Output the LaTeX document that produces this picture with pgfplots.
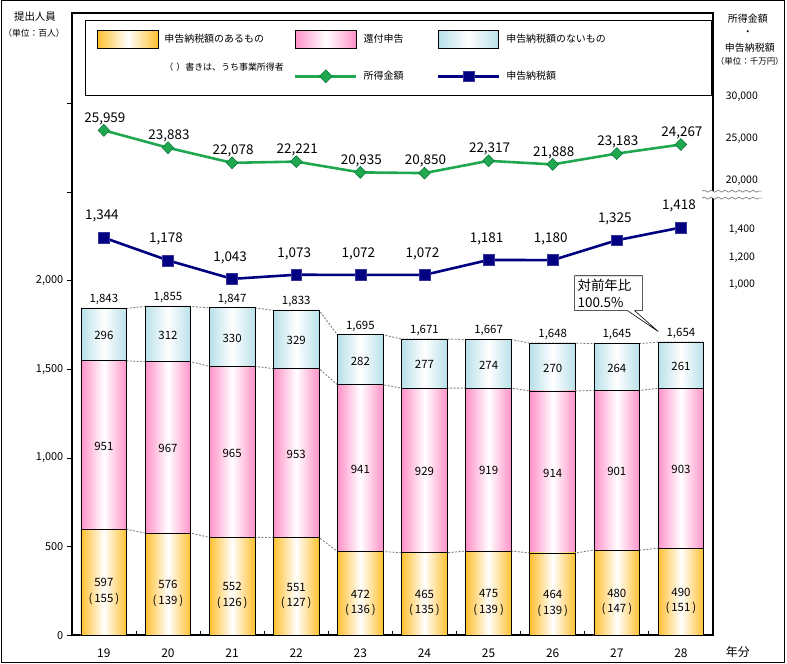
\documentclass[border=0pt]{standalone}
\usepackage{pgfplots}
\pgfplotsset{compat=1.18}
\usepackage{pgfplotstable}
\usepackage{fontspec}
\setmainfont{Noto Sans CJK JP}
\usetikzlibrary{shapes.callouts,decorations.pathmorphing}
\definecolor{oC}{RGB}{255,192,48}
\definecolor{pC}{RGB}{255,145,200}
\definecolor{cC}{RGB}{184,224,234}
\definecolor{gC}{RGB}{32,168,80}
\definecolor{gD}{RGB}{0,110,50}
\definecolor{nC}{RGB}{0,0,128}

\pgfplotstableread{
x o p c b tot
0 597 951 296 155 1,843
1 576 967 312 139 1,855
2 552 965 330 126 1,847
3 551 953 329 127 1,833
4 472 941 282 136 1,695
5 465 929 277 135 1,671
6 475 919 274 139 1,667
7 464 914 270 139 1,648
8 480 901 264 147 1,645
9 490 903 261 151 1,654
}\bars

\pgfplotstableread{
xe o p c
-0.357 597 951 296
0.357 597 951 296
0.643 576 967 312
1.357 576 967 312
1.643 552 965 330
2.357 552 965 330
2.643 551 953 329
3.357 551 953 329
3.643 472 941 282
4.357 472 941 282
4.643 465 929 277
5.357 465 929 277
5.643 475 919 274
6.357 475 919 274
6.643 464 914 270
7.357 464 914 270
7.643 480 901 264
8.357 480 901 264
8.643 490 903 261
9.357 490 903 261
}\edges

\pgfplotstableread{
x g gl n nl
0 25959 25,959 1344 1,344
1 23883 23,883 1178 1,178
2 22078 22,078 1043 1,043
3 22221 22,221 1073 1,073
4 20935 20,935 1072 1,072
5 20850 20,850 1072 1,072
6 22317 22,317 1181 1,181
7 21888 21,888 1180 1,180
8 23183 23,183 1325 1,325
9 24267 24,267 1418 1,418
}\lines

\pgfplotsset{
  base/.style={at={(71bp,28bp)}, anchor=south west, width=644bp, height=625bp,
    scale only axis, xmin=-0.5, xmax=9.5, clip=false},
  lab/.style={draw=none, forget plot, nodes near coords, point meta=explicit symbolic,
    every node near coord/.append style={text=black, inner sep=1bp, font=\fontsize{11.5bp}{13bp}\selectfont}},
  dl/.style={gray, line width=0.9bp, dash pattern=on 2bp off 1.5bp},
  bar/.style={draw=black, line width=0.8bp, left color=#1, right color=#1, middle color=white},
  oswatch/.style={legend image code/.code={\draw[draw=black, line width=0.6bp, left color=oC, right color=oC, middle color=white] (0bp,-9bp) rectangle (61bp,9bp);}},
  pswatch/.style={legend image code/.code={\draw[draw=black, line width=0.6bp, left color=pC, right color=pC, middle color=white] (0bp,-9bp) rectangle (61bp,9bp);}},
  cswatch/.style={legend image code/.code={\draw[draw=black, line width=0.6bp, left color=cC, right color=cC, middle color=white] (0bp,-9bp) rectangle (61bp,9bp);}},
  eswatch/.style={legend image code/.code={\path[draw=none, fill=none] (0bp,-9bp) rectangle (61bp,9bp);}},
  gleg/.style={legend image code/.code={\path[draw=none, fill=none] (0bp,-9bp) rectangle (61bp,9bp);
     \draw[gC, line width=3.2bp] (0bp,0bp) -- (61bp,0bp);
     \draw[gC, line width=0.5bp, mark=diamond*, mark size=6.5bp, mark options={fill=gC, draw=gD, line width=0.5bp, xscale=1.3}] plot coordinates {(30.5bp,0bp)};}},
  nleg/.style={legend image code/.code={\path[draw=none, fill=none] (0bp,-9bp) rectangle (61bp,9bp);
     \draw[nC, line width=3.2bp] (0bp,0bp) -- (61bp,0bp);
     \draw[nC, line width=0.5bp, mark=square*, mark size=5.5bp, mark options={fill=nC, draw=nC!80!white, line width=0.5bp}] plot coordinates {(30.5bp,0bp)};}},
}

\begin{document}
\fontsize{10bp}{12bp}\selectfont
\begin{tikzpicture}[font=\fontsize{10bp}{12bp}\selectfont]
\draw[line width=0.8bp] (0.4bp,0.4bp) rectangle (786.6bp,665.6bp);

% dashed series lines between bars
\begin{axis}[base, hide axis, ymin=0, ymax=3511, stack plots=y]
\addplot[dl] table[x=xe,y=o]{\edges};
\addplot[dl] table[x=xe,y=p]{\edges};
\addplot[dl] table[x=xe,y=c]{\edges};
\end{axis}

% bars (each bar its own plot so that its shading is its own)
\begin{axis}[base, ybar, bar width=46bp, bar shift=0pt, ymin=0, ymax=3511,
  axis line style={line width=2.5bp},
  /pgf/number format/assume math mode=true,
  tick align=outside, major tick length=5bp, tick pos=left,
  every tick/.style={black, line width=0.8bp},
  ytick={0,500,1000,1500,2000,2500,3000},
  yticklabels={0,500,{1,000},{1,500},{2,000},{},{}},
  yticklabel style={font=\fontsize{11bp}{12bp}\selectfont},
  xtick={0,...,9}, xticklabels={19,20,21,22,23,24,25,26,27,28},
  xticklabel style={font=\fontsize{12bp}{13bp}\selectfont, yshift=-5bp},
  xtick style={draw=none},
  extra x ticks={0.5,1.5,...,8.5}, extra x tick labels={},
  extra x tick style={tick align=inside, major tick length=4bp, xtick style={draw=black}},
]
\pgfplotsinvokeforeach{0,...,9}{
\addplot[bar=cC, restrict x to domain=#1:#1] table[x=x, y expr=\thisrow{o}+\thisrow{p}+\thisrow{c}]{\bars};
\addplot[bar=pC, restrict x to domain=#1:#1] table[x=x, y expr=\thisrow{o}+\thisrow{p}]{\bars};
\addplot[bar=oC, restrict x to domain=#1:#1] table[x=x, y=o]{\bars};
}
\end{axis}

% income line (right upper scale)
\begin{axis}[base, ymin=-34405, ymax=40000, axis x line=none, axis y line*=right,
  y axis line style={draw=none}, ytick style={draw=none}, major tick length=0pt,
  scaled y ticks=false,
  /pgf/number format/assume math mode=true,
  ytick={20000,25000,30000}, yticklabels={{20,000},{25,000},{30,000}},
  yticklabel style={anchor=center, xshift=29bp, font=\fontsize{10.5bp}{12bp}\selectfont}]
\addplot[gC, line width=2.6bp, mark=diamond*, mark size=6bp,
  mark options={fill=gC, draw=gD, line width=0.5bp, xscale=1.3},
  nodes near coords, point meta=explicit symbolic,
  every node near coord/.append style={text=black, inner sep=1bp, yshift=4.4bp, xshift=1bp,
    font=\fontsize{13.5bp}{15bp}\selectfont}]
  table[x=x,y=g,meta=gl]{\lines};
\end{axis}

% tax line (right lower scale)
\begin{axis}[base, ymin=-1560, ymax=2985.5, axis x line=none, axis y line*=right,
  y axis line style={draw=none}, ytick style={draw=none}, major tick length=0pt,
  scaled y ticks=false,
  /pgf/number format/assume math mode=true,
  ytick={1000,1200,1400}, yticklabels={{1,000},{1,200},{1,400}},
  yticklabel style={anchor=center, xshift=29bp, font=\fontsize{10.5bp}{12bp}\selectfont}]
\addplot[nC, line width=2.6bp, mark=square*, mark size=5.5bp,
  mark options={fill=nC, draw=nC!80!white, line width=0.5bp},
  nodes near coords, point meta=explicit symbolic,
  every node near coord/.append style={text=black, inner sep=1bp, yshift=14bp, xshift=-2bp,
    font=\fontsize{13.5bp}{15bp}\selectfont}]
  table[x=x,y=n,meta=nl]{\lines};
\end{axis}

% bar labels and legend
\begin{axis}[base, hide axis, ymin=0, ymax=3511,
  legend cell align=left,
  legend style={at={(0,1)}, anchor=north west, xshift=13bp, yshift=-7bp,
    draw=black, line width=0.8bp, fill=white,
    inner xsep=12bp, inner ysep=10bp, column sep=3bp, row sep=14bp,
    nodes={inner xsep=3bp, inner ysep=0bp}},
  legend columns=3]
\addplot[lab, every node near coord/.append style={yshift=2.4bp}]
  table[x=x, y expr=\thisrow{o}+\thisrow{p}+\thisrow{c}, meta=tot]{\bars};
\addplot[lab, every node near coord/.append style={yshift=-6.6bp}]
  table[x=x, y expr=\thisrow{o}+\thisrow{p}+\thisrow{c}/2, meta=c]{\bars};
\addplot[lab, every node near coord/.append style={yshift=-6.6bp}]
  table[x=x, y expr=\thisrow{o}+\thisrow{p}/2, meta=p]{\bars};
\addplot[lab, every node near coord/.append style={yshift=-6bp}]
  table[x=x, y expr=\thisrow{o}/2, meta=o]{\bars};
\addplot[lab, nodes near coords={(\,\pgfplotspointmeta\,)}, every node near coord/.append style={yshift=-23.5bp}]
  table[x=x, y expr=\thisrow{o}/2, meta=b]{\bars};
\addlegendimage{oswatch}
\addlegendentry[text width=124bp]{申告納税額のあるもの}
\addlegendimage{pswatch}
\addlegendentry[text width=67bp]{還付申告}
\addlegendimage{cswatch}
\addlegendentry[text width=191bp]{申告納税額のないもの}
\addlegendimage{eswatch}
\addlegendentry[text width=124bp, yshift=9bp, font=\fontsize{9bp}{10bp}\selectfont]{\mbox{（\hspace{3bp}）書きは、うち事業所得者}}
\addlegendimage{gleg}
\addlegendentry[text width=67bp]{所得金額}
\addlegendimage{nleg}
\addlegendentry[text width=191bp]{申告納税額}
\end{axis}

% axis break on right scale
\fill[white] (704bp,467bp) rectangle (764bp,474bp);
\draw[gray, line width=0.7bp, decorate, decoration={snake, amplitude=1bp, segment length=7bp}] (704bp,474bp) -- (764bp,474bp);
\draw[gray, line width=0.7bp, decorate, decoration={snake, amplitude=1bp, segment length=7bp}] (704bp,467bp) -- (764bp,467bp);

% titles
\node[font=\fontsize{10.5bp}{12bp}\selectfont] at (34bp,649bp) {提出人員};
\node[font=\fontsize{8.8bp}{10bp}\selectfont] at (33bp,633bp) {（単位：百人）};
\node[font=\fontsize{10bp}{12bp}\selectfont] at (750bp,647bp) {所得金額};
\node[font=\fontsize{10bp}{12bp}\selectfont] at (750bp,633bp) {・};
\node[font=\fontsize{10bp}{12bp}\selectfont] at (752bp,618bp) {申告納税額};
\node[font=\fontsize{8.5bp}{10bp}\selectfont] at (752bp,604bp) {（単位：千万円）};
\node[font=\fontsize{12bp}{13bp}\selectfont] at (740bp,11bp) {年分};

% callout
\node[rectangle callout, draw, fill=white, line width=0.6bp, minimum width=68bp, minimum height=35bp,
  text width=62bp, align=left, inner xsep=2bp, inner ysep=2bp, font=\fontsize{13.5bp}{17bp}\selectfont,
  callout absolute pointer={(660bp,333bp)}] at (610bp,371.5bp) {対前年比\\100.5\%};
\end{tikzpicture}
\end{document}
